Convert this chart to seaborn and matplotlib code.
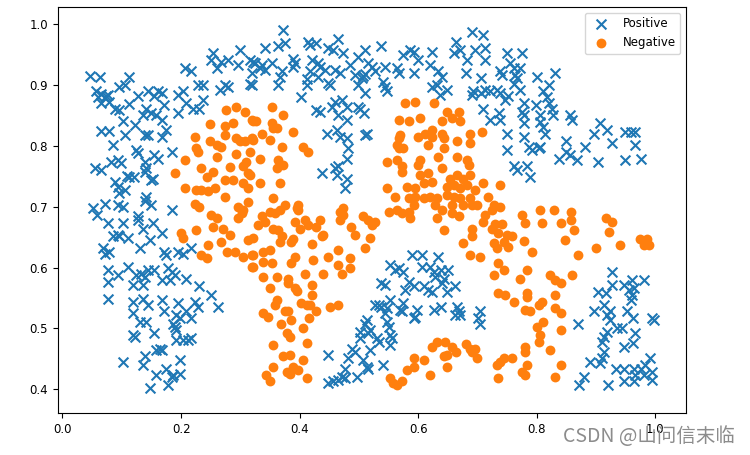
import numpy as np
import pandas as pd
import seaborn as sns
import matplotlib.pyplot as plt

# Positive samples (x marks)
pos_x = [0.046, 0.063, 0.057, 0.065, 0.074, 0.060, 0.071, 0.077, 0.065, 0.079, 0.096, 0.105, 0.113, 0.088, 0.096, 0.113,
         0.127, 0.144, 0.161, 0.167, 0.155, 0.172, 0.141, 0.150, 0.136, 0.158, 0.167, 0.195, 0.203, 0.206, 0.217, 0.209,
         0.220, 0.195, 0.231, 0.237, 0.228, 0.237, 0.254, 0.251, 0.260, 0.268, 0.279, 0.274, 0.279, 0.265, 0.296, 0.299,
         0.316, 0.319, 0.321, 0.065, 0.079, 0.102, 0.085, 0.105, 0.122, 0.139, 0.144, 0.167, 0.175, 0.124, 0.127, 0.155,
         0.161, 0.184, 0.139, 0.054, 0.065, 0.082, 0.093, 0.099, 0.141, 0.139, 0.108, 0.113, 0.120, 0.153, 0.150, 0.088,
         0.093, 0.105, 0.096, 0.141, 0.139, 0.071, 0.051, 0.093, 0.102,
         0.059, 0.150, 0.184, 0.077, 0.102, 0.127, 0.127, 0.136, 0.153, 0.085, 0.093, 0.096, 0.110, 0.147, 0.167, 0.130,
         0.068, 0.071, 0.079, 0.172, 0.175, 0.195, 0.203, 0.217, 0.110, 0.077, 0.093, 0.077, 0.124, 0.133, 0.139, 0.144,
         0.155, 0.119, 0.136, 0.167, 0.178, 0.184, 0.189, 0.181, 0.209, 0.231, 0.077, 0.119, 0.136, 0.144, 0.167, 0.172,
         0.195, 0.192, 0.198, 0.223, 0.229, 0.251, 0.262, 0.209, 0.217, 0.119, 0.130, 0.141, 0.186, 0.189, 0.192, 0.155,
         0.119, 0.122, 0.192, 0.203, 0.212, 0.217, 0.158, 0.164, 0.167, 0.139, 0.136, 0.198, 0.102, 0.158, 0.175, 0.184,
         0.186, 0.198, 0.178, 0.147,
         0.316, 0.324, 0.333, 0.336, 0.341, 0.319, 0.341, 0.353, 0.364, 0.375, 0.372, 0.367, 0.370, 0.364, 0.389, 0.392,
         0.389, 0.414, 0.417, 0.428, 0.420, 0.431, 0.434, 0.417, 0.465, 0.448, 0.457, 0.473, 0.443, 0.460, 0.468, 0.412,
         0.412, 0.403, 0.448, 0.451, 0.431, 0.485, 0.499, 0.510, 0.493, 0.499, 0.507, 0.510, 0.505, 0.516, 0.522, 0.527,
         0.510, 0.538, 0.544, 0.541, 0.544, 0.547, 0.564, 0.567, 0.575, 0.586, 0.592, 0.600, 0.592, 0.620, 0.623, 0.634,
         0.640, 0.623, 0.631, 0.648, 0.637, 0.663, 0.660, 0.671, 0.683, 0.680, 0.691, 0.691,
         0.428, 0.434, 0.454, 0.460, 0.471, 0.479, 0.465, 0.479, 0.499, 0.502, 0.508, 0.446, 0.463, 0.468, 0.479, 0.510,
         0.513, 0.482, 0.479, 0.460, 0.465, 0.437, 0.463, 0.479, 0.476,
         0.710, 0.696, 0.713, 0.713, 0.705, 0.693, 0.705, 0.713, 0.721, 0.733, 0.738, 0.749, 0.775, 0.755, 0.761, 0.738,
         0.741, 0.764, 0.767, 0.772, 0.761, 0.772, 0.747, 0.752, 0.800, 0.831, 0.820, 0.811, 0.817, 0.710, 0.721, 0.736,
         0.738, 0.778, 0.775, 0.778, 0.798, 0.820, 0.825, 0.806, 0.828, 0.778, 0.806, 0.811, 0.856, 0.859, 0.749, 0.778,
         0.814, 0.786, 0.792, 0.803, 0.806, 0.749, 0.850, 0.850, 0.856, 0.837, 0.868, 0.882, 0.896, 0.907, 0.918, 0.927,
         0.904, 0.949, 0.958, 0.966, 0.966, 0.949, 0.975, 0.761, 0.766, 0.783, 0.789,
         0.589, 0.606, 0.634, 0.553, 0.561, 0.567, 0.575, 0.606, 0.620, 0.626, 0.639, 0.651, 0.628, 0.643, 0.640, 0.538,
         0.544, 0.584, 0.592, 0.609, 0.617, 0.623, 0.578, 0.662, 0.648, 0.553, 0.575, 0.527, 0.533, 0.538, 0.547, 0.544,
         0.569, 0.572, 0.598, 0.595, 0.592, 0.626, 0.639, 0.665, 0.668, 0.671, 0.662, 0.513, 0.510, 0.519, 0.516, 0.502,
         0.547, 0.550, 0.530, 0.533, 0.553, 0.556, 0.553, 0.502, 0.488, 0.493, 0.519, 0.448, 0.482, 0.507, 0.541, 0.476,
         0.513, 0.516, 0.471, 0.476, 0.496, 0.465, 0.448, 0.457,
         0.704, 0.701, 0.704, 0.927, 0.904, 0.916, 0.927, 0.947, 0.961, 0.980, 0.955, 0.961, 0.958, 0.964, 0.913, 0.924,
         0.918, 0.896, 0.952, 0.963, 0.924, 0.870, 0.994, 0.997, 0.936, 0.944, 0.918, 0.913, 0.910, 0.966, 0.963, 0.947,
         0.913, 0.910, 0.907, 0.890, 0.991, 0.933, 0.947, 0.964, 0.975, 0.983, 0.994, 0.994, 0.966, 0.879, 0.871, 0.920,
         0.947, 0.964, 0.980]
pos_y = [0.915, 0.913, 0.890, 0.885, 0.882, 0.880, 0.879, 0.884, 0.870, 0.872, 0.897, 0.900, 0.913, 0.861, 0.859, 0.868,
         0.881, 0.889, 0.889, 0.886, 0.881, 0.867, 0.861, 0.853, 0.850, 0.850, 0.842, 0.883, 0.890, 0.927, 0.923, 0.870,
         0.861, 0.853, 0.861, 0.875, 0.900, 0.900, 0.952, 0.941, 0.927, 0.938, 0.940, 0.900, 0.897, 0.891, 0.933, 0.957,
         0.902, 0.919, 0.938, 0.824, 0.824, 0.840, 0.801, 0.818, 0.834, 0.818, 0.818, 0.815, 0.826, 0.793, 0.788, 0.785,
         0.778, 0.789, 0.774, 0.763, 0.760, 0.774, 0.777, 0.771, 0.763, 0.757, 0.751, 0.749, 0.749, 0.746, 0.743, 0.741,
         0.733, 0.727, 0.722, 0.715, 0.709, 0.705, 0.697, 0.703, 0.700,
         0.686, 0.703, 0.694, 0.673, 0.673, 0.684, 0.678, 0.664, 0.673, 0.651, 0.653, 0.651, 0.648, 0.645, 0.656, 0.632,
         0.632, 0.623, 0.626, 0.626, 0.620, 0.626, 0.623, 0.632, 0.601, 0.596, 0.588, 0.577, 0.588, 0.590, 0.585, 0.596,
         0.596, 0.571, 0.571, 0.580, 0.599, 0.593, 0.588, 0.580, 0.582, 0.569, 0.549, 0.544, 0.549, 0.538, 0.547, 0.528,
         0.541, 0.522, 0.517, 0.544, 0.536, 0.555, 0.536, 0.528, 0.517, 0.525, 0.511, 0.511, 0.508, 0.503, 0.497, 0.492,
         0.489, 0.486, 0.481, 0.481, 0.481, 0.484, 0.465, 0.467, 0.465, 0.454, 0.440, 0.448, 0.445, 0.424, 0.434, 0.421,
         0.424, 0.426, 0.407, 0.402,
         0.940, 0.935, 0.927, 0.932, 0.924, 0.900, 0.960, 0.935, 0.963, 0.968, 0.990, 0.913, 0.922, 0.900, 0.943, 0.935,
         0.930, 0.971, 0.965, 0.968, 0.941, 0.935, 0.930, 0.922, 0.976, 0.960, 0.957, 0.952, 0.924, 0.924, 0.919, 0.909,
         0.900, 0.880, 0.903, 0.900, 0.913, 0.932, 0.946, 0.957, 0.916, 0.900, 0.915, 0.917, 0.911, 0.935, 0.930, 0.922,
         0.886, 0.963, 0.930, 0.905, 0.897, 0.889, 0.927, 0.919, 0.949, 0.957, 0.954, 0.940, 0.919, 0.933, 0.954, 0.922,
         0.913, 0.897, 0.900, 0.892, 0.883, 0.971, 0.952, 0.957, 0.941, 0.919, 0.987, 0.883,
         0.859, 0.856, 0.864, 0.872, 0.875, 0.864, 0.850, 0.842, 0.864, 0.861, 0.853, 0.820, 0.826, 0.815, 0.812, 0.818,
         0.820, 0.796, 0.779, 0.763, 0.766, 0.755, 0.752, 0.746, 0.730,
         0.981, 0.957, 0.960, 0.941, 0.911, 0.889, 0.886, 0.891, 0.889, 0.891, 0.886, 0.952, 0.952, 0.935, 0.927, 0.922,
         0.916, 0.916, 0.911, 0.927, 0.902, 0.891, 0.875, 0.881, 0.913, 0.919, 0.900, 0.889, 0.880, 0.861, 0.842, 0.853,
         0.842, 0.870, 0.856, 0.850, 0.867, 0.870, 0.861, 0.850, 0.850, 0.837, 0.839, 0.831, 0.850, 0.842, 0.820, 0.815,
         0.820, 0.798, 0.793, 0.796, 0.798, 0.793, 0.807, 0.790, 0.785, 0.779, 0.777, 0.798, 0.820, 0.837, 0.826, 0.804,
         0.774, 0.823, 0.823, 0.823, 0.801, 0.777, 0.778, 0.766, 0.760, 0.766, 0.749,
         0.620, 0.620, 0.618, 0.604, 0.596, 0.599, 0.593, 0.601, 0.601, 0.593, 0.596, 0.596, 0.585, 0.582, 0.574, 0.574,
         0.571, 0.577, 0.569, 0.569, 0.563, 0.560, 0.563, 0.569, 0.560, 0.547, 0.541, 0.538, 0.538, 0.536, 0.533, 0.525,
         0.530, 0.528, 0.530, 0.519, 0.517, 0.530, 0.536, 0.536, 0.528, 0.522, 0.522, 0.514, 0.508, 0.497, 0.492, 0.495,
         0.511, 0.503, 0.484, 0.478, 0.489, 0.484, 0.473, 0.484, 0.467, 0.462, 0.465, 0.456, 0.451, 0.448, 0.440, 0.434,
         0.437, 0.434, 0.421, 0.418, 0.421, 0.415, 0.410, 0.413,
         0.528, 0.517, 0.508, 0.593, 0.560, 0.558, 0.571, 0.571, 0.580, 0.580, 0.563, 0.555, 0.547, 0.566, 0.538, 0.528,
         0.522, 0.528, 0.528, 0.517, 0.514, 0.508, 0.517, 0.514, 0.500, 0.500, 0.495, 0.486, 0.478, 0.492, 0.476, 0.470,
         0.462, 0.451, 0.443, 0.445, 0.451, 0.434, 0.434, 0.434, 0.434, 0.440, 0.429, 0.415, 0.424, 0.421, 0.407, 0.407,
         0.413, 0.413, 0.424]

# Negative samples (dots)
neg_x = [0.276, 0.293, 0.307, 0.319, 0.248, 0.274, 0.288, 0.223, 0.226, 0.229, 0.248, 0.260, 0.268, 0.274, 0.293, 0.299,
         0.307, 0.319, 0.260, 0.293, 0.310, 0.305, 0.206, 0.189, 0.234, 0.254, 0.243, 0.282, 0.313, 0.274, 0.288, 0.206,
         0.226, 0.234, 0.246, 0.257, 0.305, 0.313, 0.274, 0.223, 0.231, 0.313, 0.296,
         0.251, 0.260, 0.296, 0.302, 0.305, 0.200, 0.203, 0.226, 0.254, 0.271, 0.282, 0.313, 0.246, 0.268, 0.277, 0.291,
         0.234, 0.243, 0.305, 0.319, 0.319,
         0.353, 0.372, 0.322, 0.327, 0.353, 0.355, 0.361, 0.336, 0.389, 0.322, 0.350, 0.370, 0.406, 0.414, 0.333, 0.364,
         0.372, 0.361, 0.333, 0.367, 0.355, 0.375, 0.316, 0.316, 0.398, 0.398,
         0.578, 0.595, 0.626, 0.567, 0.584, 0.603, 0.648, 0.668, 0.657, 0.671, 0.640, 0.688, 0.570, 0.567, 0.600, 0.612,
         0.623, 0.623, 0.640, 0.643, 0.564, 0.567, 0.575, 0.617, 0.643, 0.665, 0.688, 0.547, 0.564, 0.572, 0.603, 0.600,
         0.634, 0.665, 0.683, 0.685, 0.572, 0.603, 0.617, 0.640, 0.654, 0.665, 0.676, 0.688, 0.648, 0.660, 0.671, 0.683,
         0.547, 0.581, 0.595, 0.609, 0.623, 0.561, 0.584, 0.595, 0.609, 0.620, 0.631, 0.648, 0.660, 0.671, 0.688, 0.657,
         0.676, 0.691, 0.592, 0.628, 0.473,
         0.707, 0.710, 0.738, 0.696, 0.718, 0.699, 0.727, 0.738,
         0.336, 0.341, 0.330, 0.350, 0.358, 0.367, 0.395, 0.355, 0.364, 0.370, 0.367, 0.392, 0.400, 0.389, 0.386, 0.409,
         0.414, 0.434, 0.428, 0.440, 0.437, 0.420, 0.468, 0.468, 0.473, 0.487, 0.493, 0.507, 0.516, 0.527, 0.522, 0.519,
         0.510, 0.465, 0.485, 0.465, 0.471, 0.485, 0.448, 0.322, 0.322, 0.322, 0.338, 0.350, 0.338, 0.353, 0.386, 0.392,
         0.423, 0.409, 0.440, 0.338, 0.361, 0.380, 0.380, 0.350, 0.392, 0.395, 0.420, 0.420, 0.361, 0.358, 0.403, 0.412,
         0.417, 0.451, 0.465, 0.338, 0.347, 0.375, 0.380, 0.428, 0.369, 0.386, 0.415, 0.406, 0.378, 0.383, 0.412, 0.355,
         0.372, 0.383, 0.406, 0.355, 0.389, 0.397, 0.378, 0.383, 0.344, 0.350, 0.412, 0.553, 0.558, 0.564, 0.572, 0.581,
         0.592, 0.592, 0.609, 0.620, 0.648, 0.623, 0.631, 0.645, 0.657, 0.663, 0.648, 0.643, 0.680, 0.688, 0.691, 0.640,
         0.657, 0.668, 0.631, 0.643, 0.676, 0.691, 0.691, 0.564, 0.572, 0.584, 0.586, 0.550, 0.688,
         0.713, 0.724, 0.710, 0.730, 0.741, 0.724, 0.735, 0.749, 0.758, 0.744, 0.752, 0.727, 0.732, 0.775, 0.780, 0.806,
         0.829, 0.809, 0.857, 0.857, 0.840, 0.862, 0.848, 0.778, 0.792, 0.704, 0.870, 0.899, 0.916, 0.927, 0.921, 0.941,
         0.974, 0.986, 0.980, 0.989, 0.735, 0.744, 0.727, 0.772, 0.783, 0.822, 0.831, 0.840, 0.859, 0.735, 0.747, 0.761,
         0.783, 0.783, 0.809, 0.803, 0.831, 0.780, 0.789, 0.831, 0.840, 0.811, 0.800, 0.840, 0.806, 0.803, 0.780, 0.780,
         0.822, 0.696, 0.699, 0.744, 0.738, 0.733, 0.758, 0.783, 0.775, 0.780, 0.840, 0.831, 0.735]
neg_y = [0.859, 0.864, 0.856, 0.842, 0.835, 0.833, 0.837, 0.815, 0.796, 0.790, 0.807, 0.801, 0.798, 0.818, 0.812, 0.807,
         0.807, 0.812, 0.782, 0.786, 0.774, 0.766, 0.777, 0.755, 0.763, 0.757, 0.749, 0.765, 0.755, 0.744, 0.744, 0.731,
         0.727, 0.727, 0.725, 0.730, 0.738, 0.730, 0.716, 0.705, 0.700, 0.708, 0.700,
         0.686, 0.681, 0.681, 0.689, 0.694, 0.656, 0.648, 0.662, 0.667, 0.664, 0.653, 0.645, 0.637, 0.642, 0.626, 0.626,
         0.621, 0.615, 0.618, 0.621, 0.601,
         0.864, 0.850, 0.840, 0.840, 0.837, 0.829, 0.829, 0.820, 0.823, 0.809, 0.809, 0.798, 0.798, 0.790, 0.779, 0.777,
         0.768, 0.763, 0.738, 0.738, 0.714, 0.703, 0.790, 0.752, 0.703, 0.694,
         0.870, 0.872, 0.870, 0.842, 0.840, 0.845, 0.856, 0.856, 0.845, 0.840, 0.840, 0.820, 0.818, 0.812, 0.815, 0.820,
         0.826, 0.815, 0.820, 0.812, 0.801, 0.796, 0.796, 0.801, 0.796, 0.807, 0.804, 0.774, 0.777, 0.766, 0.777, 0.768,
         0.782, 0.782, 0.777, 0.768, 0.757, 0.752, 0.755, 0.763, 0.746, 0.752, 0.746, 0.752, 0.733, 0.736, 0.730, 0.736,
         0.730, 0.733, 0.730, 0.738, 0.741, 0.716, 0.714, 0.716, 0.714, 0.716, 0.714, 0.719, 0.716, 0.714, 0.714, 0.703,
         0.703, 0.703, 0.703, 0.703, 0.697,
         0.823, 0.738, 0.736, 0.727, 0.716, 0.703, 0.703, 0.700,
         0.684, 0.674, 0.670, 0.692, 0.689, 0.694, 0.697, 0.664, 0.661, 0.651, 0.642, 0.675, 0.664, 0.647, 0.642, 0.678,
         0.670, 0.678, 0.667, 0.653, 0.651, 0.639, 0.678, 0.692, 0.686, 0.667, 0.653, 0.684, 0.678, 0.675, 0.670, 0.648,
         0.632, 0.629, 0.615, 0.604, 0.590, 0.599, 0.618, 0.648, 0.621, 0.601, 0.626, 0.629, 0.609, 0.607, 0.607, 0.618,
         0.612, 0.590, 0.590, 0.585, 0.585, 0.582, 0.574, 0.566, 0.566, 0.561, 0.571, 0.555, 0.547, 0.538, 0.541, 0.538,
         0.538, 0.536, 0.538, 0.525, 0.519, 0.528, 0.528, 0.528, 0.508, 0.514, 0.517, 0.500, 0.492, 0.486, 0.476, 0.473,
         0.454, 0.456, 0.448, 0.437, 0.437, 0.432, 0.429, 0.426, 0.424, 0.413, 0.418, 0.418, 0.410, 0.407, 0.413, 0.432,
         0.437, 0.451, 0.448, 0.424, 0.437, 0.470, 0.478, 0.478, 0.470, 0.462, 0.456, 0.454, 0.475, 0.467, 0.462, 0.695,
         0.689, 0.684, 0.681, 0.662, 0.640, 0.664, 0.651, 0.695, 0.689, 0.692, 0.681, 0.692, 0.620,
         0.686, 0.694, 0.675, 0.672, 0.672, 0.664, 0.656, 0.653, 0.651, 0.642, 0.634, 0.640, 0.632, 0.686, 0.673, 0.695,
         0.695, 0.673, 0.692, 0.678, 0.673, 0.662, 0.645, 0.643, 0.626, 0.618, 0.621, 0.632, 0.681, 0.675, 0.659, 0.637,
         0.647, 0.647, 0.637, 0.637, 0.607, 0.596, 0.588, 0.582, 0.596, 0.588, 0.580, 0.574, 0.588, 0.558, 0.555, 0.544,
         0.558, 0.552, 0.544, 0.538, 0.555, 0.530, 0.528, 0.533, 0.525, 0.511, 0.503, 0.497, 0.489, 0.478, 0.470, 0.462,
         0.465, 0.467, 0.451, 0.451, 0.445, 0.440, 0.451, 0.440, 0.429, 0.424, 0.440, 0.421, 0.418]

pos = pd.DataFrame({"x1": pos_x, "x2": pos_y})
neg = pd.DataFrame({"x1": neg_x, "x2": neg_y})

plt.rcParams["font.size"] = 8.5

fig = plt.figure(figsize=(7.5, 4.55), dpi=100)
ax = fig.add_axes([0.077, 0.092, 0.838, 0.893])

sns.scatterplot(data=pos, x="x1", y="x2", marker="x", color="C0", s=50, linewidth=1.5, label="Positive", ax=ax)
sns.scatterplot(data=neg, x="x1", y="x2", marker="o", color="C1", s=50, linewidth=0, label="Negative", ax=ax)

ax.set_xlim(-0.008, 1.052)
ax.set_ylim(0.361, 1.028)
ax.set_xticks([0.0, 0.2, 0.4, 0.6, 0.8, 1.0])
ax.set_yticks([0.4, 0.5, 0.6, 0.7, 0.8, 0.9, 1.0])
ax.set_xlabel("")
ax.set_ylabel("")
ax.legend(loc="upper right")

# watermark in the bottom-right corner
fig.text(0.98, 0.041, "CSDN @山问信末临", ha="right", va="center", fontsize=14, color="#8c8c8c",
         family=["Noto Sans CJK SC", "DejaVu Sans"])

fig.savefig("out.png", dpi=100)
